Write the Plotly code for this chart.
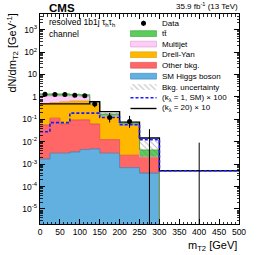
import numpy as np
import plotly.graph_objects as go

# ---------------- data ----------------
edges = [0, 25, 50, 75, 100, 125, 150, 200, 250, 300, 500]
data_counts = [33, 32, 32, 30, 28, 12, 6, 4, 0, 0]
# background components, events / GeV (not cumulative)
higgs    = [1.7e-3, 3.1e-3, 3.1e-3, 3.5e-3, 4.5e-3, 4.8e-3, 3.1e-3, 7.0e-4, 4.0e-4, 0]
other    = [0.054, 0.11, 0.059, 0.09, 0.09, 0.057, 0.0093, 0.0018, 0.0017, 0]
dy       = [0.45, 0.44, 0.54, 0.56, 0.56, 0.42, 0.12, 0.052, 0.0, 0]
multijet = [0.60, 0.55, 0.50, 0.45, 0.40, 0.03, 0.01, 0.003, 0.0, 0]
ttbar    = [0.25, 0.25, 0.25, 0.20, 0.20, 0.10, 0.03, 0.007, 0.0022, 0]
unc_up   = [0.08, 0.08, 0.08, 0.08, 0.08, 0.10, 0.15, 0.25, 1.5, 0]
unc_down = [0.08, 0.08, 0.08, 0.08, 0.08, 0.10, 0.15, 0.20, 0.5, 0]
sig_sm_x100 = [0.028, 0.071, 0.071, 0.19, 0.19, 0.19, 0.12, 0.057, 0.0124, 5.1e-4]
sig_k20_x10 = [0.49, 0.49, 0.49, 0.49, 0.49, 0.62, 0.22, 0.075, 0.0148, 5.1e-4]

ytickvals = [1e-5, 1e-4, 1e-3, 1e-2, 1e-1, 1, 10, 100, 1000]
yticktext = ["10<sup>-5</sup>", "10<sup>-4</sup>", "10<sup>-3</sup>", "10<sup>-2</sup>",
             "10<sup>-1</sup>", "1", "10", "10<sup>2</sup>", "10<sup>3</sup>"]

# ---------------- helpers ----------------
FLOOR = 1e-9
edges_a = np.array(edges, dtype=float)
widths = np.diff(edges_a)
centers = 0.5 * (edges_a[:-1] + edges_a[1:])

def step_y(vals):
    v = np.maximum(np.array(vals, dtype=float), FLOOR)
    return list(v) + [v[-1]]

c1 = np.array(higgs)
c2 = c1 + np.array(other)
c3 = c2 + np.array(dy)
c4 = c3 + np.array(multijet)
c5 = c4 + np.array(ttbar)

FONT = "Liberation Sans, Arial, Helvetica, sans-serif"

fig = go.Figure()

# baseline
fig.add_trace(go.Scatter(x=edges, y=step_y([FLOOR] * 10), mode="lines", line_shape="hv",
                         line=dict(width=0), showlegend=False, hoverinfo="skip"))
stack = [
    (c1, "#62b0e0", "#3d7fb5"),
    (c2, "#ff6666", "#d94b4b"),
    (c3, "#ffb800", "#e09a00"),
    (c4, "#fdccf7", "#d9a0d0"),
    (c5, "#5acd5a", "#3aa03a"),
]
for cum, fc, lc in stack:
    fig.add_trace(go.Scatter(x=edges, y=step_y(cum), mode="lines", line_shape="hv",
                             line=dict(width=0.8, color=lc), fill="tonexty", fillcolor=fc,
                             showlegend=False, hoverinfo="skip"))

# uncertainty band (hatched)
lo = np.where(c5 > 0, c5 * (1 - np.array(unc_down)), FLOOR)
hi = np.where(c5 > 0, c5 * (1 + np.array(unc_up)), FLOOR)
fig.add_trace(go.Scatter(x=edges, y=step_y(lo), mode="lines", line_shape="hv",
                         line=dict(width=0), showlegend=False, hoverinfo="skip"))
fig.add_trace(go.Scatter(x=edges, y=step_y(hi), mode="lines", line_shape="hv",
                         line=dict(width=0), fill="tonexty", fillcolor="rgba(0,0,0,0)",
                         fillpattern=dict(shape="\\", fgcolor="#777777", bgcolor="rgba(0,0,0,0)",
                                          size=4, solidity=0.25, fillmode="overlay"),
                         showlegend=False, hoverinfo="skip"))

# signals
fig.add_trace(go.Scatter(x=edges, y=step_y(sig_k20_x10), mode="lines", line_shape="hv",
                         line=dict(width=1.4, color="black"), showlegend=False, hoverinfo="skip"))
fig.add_trace(go.Scatter(x=edges, y=step_y(sig_sm_x100), mode="lines", line_shape="hv",
                         line=dict(width=1.6, color="#1a1aff", dash="3px,2px"),
                         showlegend=False, hoverinfo="skip"))

# data with approximate Poisson (Garwood) intervals
n = np.array(data_counts, dtype=float)
def upper(nn):
    m = nn + 1
    return m * (1 - 1 / (9 * m) + 1 / (3 * np.sqrt(m))) ** 3
def lower(nn):
    nn = np.maximum(nn, 1e-9)
    return nn * (1 - 1 / (9 * nn) - 1 / (3 * np.sqrt(nn))) ** 3
dens = n / widths
up_d = upper(n) / widths
lo_d = np.where(n > 0, lower(n) / widths, 0)
mask = n > 0
fig.add_trace(go.Scatter(x=centers[mask], y=dens[mask], mode="markers",
                         marker=dict(color="black", size=5),
                         error_y=dict(type="data", symmetric=False,
                                      array=(up_d - dens)[mask], arrayminus=(dens - lo_d)[mask],
                                      color="black", thickness=1, width=0),
                         showlegend=False, hoverinfo="skip"))
zx, zy = [], []
for c, u in zip(centers[~mask], up_d[~mask]):
    zx += [c, c, None]
    zy += [1e-8, u, None]
fig.add_trace(go.Scatter(x=zx, y=zy, mode="lines", line=dict(color="black", width=1),
                         showlegend=False, hoverinfo="skip"))

# ---------------- legend drawn on an overlay axis (plot-area fractions) ----------------
def fx(px):
    return (px - 40) / 199.0
def fy(py):
    return (224 - py) / 210.0

leg_y = [23.3, 33.6, 44.1, 54.7, 65.3, 76.2, 87.0, 97.8, 108.5]
leg_labels = ["Data", "tt\u0304", "Multijet", "Drell-Yan", "Other bkg.", "SM Higgs boson",
              "Bkg. uncertainty", "(k<sub>λ</sub> = 1, SM) × 100", "(k<sub>λ</sub> = 20) × 10"]
box_fill = [None, ("#5acd5a", "#3aa03a"), ("#fdccf7", "#d9a0d0"), ("#ffb800", "#e09a00"),
            ("#ff6666", "#d94b4b"), ("#62b0e0", "#3d7fb5")]
bx0, bx1, bh = fx(130.5), fx(156.5), 5.8 / 210.0
for i in range(1, 6):
    fcol, lcol = box_fill[i]
    yc = fy(leg_y[i])
    fig.add_trace(go.Scatter(x=[bx0, bx1, bx1, bx0, bx0], y=[yc - bh / 2, yc - bh / 2, yc + bh / 2, yc + bh / 2, yc - bh / 2],
                             mode="lines", line=dict(width=0.6, color=lcol), fill="toself",
                             fillcolor=fcol, xaxis="x2", yaxis="y2", showlegend=False, hoverinfo="skip"))
yc = fy(leg_y[6])
fig.add_trace(go.Scatter(x=[bx0, bx1, bx1, bx0, bx0], y=[yc - bh / 2, yc - bh / 2, yc + bh / 2, yc + bh / 2, yc - bh / 2],
                         mode="lines", line=dict(width=0), fill="toself", fillcolor="rgba(0,0,0,0)",
                         fillpattern=dict(shape="\\", fgcolor="#777777", bgcolor="rgba(0,0,0,0)",
                                          size=4, solidity=0.25, fillmode="overlay"),
                         xaxis="x2", yaxis="y2", showlegend=False, hoverinfo="skip"))
fig.add_trace(go.Scatter(x=[bx0, bx1], y=[fy(leg_y[8])] * 2, mode="lines",
                         line=dict(width=1.4, color="black"), xaxis="x2", yaxis="y2",
                         showlegend=False, hoverinfo="skip"))
fig.add_trace(go.Scatter(x=[bx0, bx1], y=[fy(leg_y[7])] * 2, mode="lines",
                         line=dict(width=1.6, color="#1a1aff", dash="3px,2px"), xaxis="x2", yaxis="y2",
                         showlegend=False, hoverinfo="skip"))
fig.add_trace(go.Scatter(x=[fx(143.5)], y=[fy(leg_y[0])], mode="markers",
                         marker=dict(color="black", size=5), xaxis="x2", yaxis="y2",
                         error_y=dict(type="constant", value=2.5 / 210, color="black", thickness=1, width=0),
                         showlegend=False, hoverinfo="skip"))

annotations = []
for lab, yy in zip(leg_labels, leg_y):
    annotations.append(dict(x=fx(159.5), y=fy(yy), xref="paper", yref="paper", text=lab,
                            showarrow=False, xanchor="left", yanchor="middle",
                            font=dict(family=FONT, size=8, color="black")))

annotations += [
    dict(x=fx(46.5), y=fy(7.5), xref="paper", yref="paper", text="<b>CMS</b>", showarrow=False,
         xanchor="left", yanchor="middle", font=dict(family=FONT, size=11.5, color="black")),
    dict(x=fx(239.5), y=fy(6.5), xref="paper", yref="paper", text="35.9 fb<sup>-1</sup> (13 TeV)",
         showarrow=False, xanchor="right", yanchor="middle", font=dict(family=FONT, size=8, color="black")),
    dict(x=fx(46.5), y=fy(22.5), xref="paper", yref="paper",
         text="resolved 1b1j τ<sub>h</sub>τ<sub>h</sub>", showarrow=False,
         xanchor="left", yanchor="middle", font=dict(family=FONT, size=8.5, color="black")),
    dict(x=fx(46.5), y=fy(33.5), xref="paper", yref="paper", text="channel", showarrow=False,
         xanchor="left", yanchor="middle", font=dict(family=FONT, size=8.5, color="black")),
    dict(x=1.0, y=fy(236.5), xref="paper", yref="paper", text="m<sub>T2</sub> [GeV]", showarrow=False,
         xanchor="right", yanchor="top", font=dict(family=FONT, size=11, color="black")),
    dict(x=fx(12), y=fy(12), xref="paper", yref="paper",
         text="dN/dm<sub>T2</sub> [GeV<sup>-1</sup>]", showarrow=False, textangle=-90,
         xanchor="center", yanchor="top", font=dict(family=FONT, size=11, color="black")),
]

minor_y = [m * 10.0 ** k for k in range(-6, 4) for m in range(2, 10)]

fig.update_layout(
    template="none",
    width=266, height=255,
    margin=dict(l=40, r=27, t=14, b=31, pad=0),
    paper_bgcolor="white", plot_bgcolor="white",
    font=dict(family=FONT, size=8, color="black"),
    showlegend=False,
    annotations=annotations,
    xaxis=dict(range=[0, 500], showgrid=False, zeroline=False, showline=True, linecolor="black",
               linewidth=1.2, mirror="ticks", ticks="inside", ticklen=5, tickcolor="black",
               tickwidth=1, dtick=50, tick0=0, tickfont=dict(size=8.5), automargin=False,
               minor=dict(ticks="inside", ticklen=2.5, dtick=10, tickcolor="black", tickwidth=0.8)),
    yaxis=dict(type="log", range=[-5.67, 3.70], showgrid=False, zeroline=False, showline=True,
               linecolor="black", linewidth=1.2, mirror="ticks", ticks="inside", ticklen=5,
               tickcolor="black", tickwidth=1, tickvals=ytickvals, ticktext=yticktext,
               tickfont=dict(size=8.5), automargin=False,
               minor=dict(ticks="inside", ticklen=2.5, tickvals=minor_y, tickcolor="black", tickwidth=0.8)),
    xaxis2=dict(overlaying="x", range=[0, 1], visible=False, anchor="y2", automargin=False),
    yaxis2=dict(overlaying="y", range=[0, 1], visible=False, anchor="x2", automargin=False),
)

fig.write_html("out.html", config={"displayModeBar": False, "staticPlot": True},
               post_script="document.body.style.margin='0px';document.body.style.padding='0px';"
                           "document.body.style.overflow='hidden';")
